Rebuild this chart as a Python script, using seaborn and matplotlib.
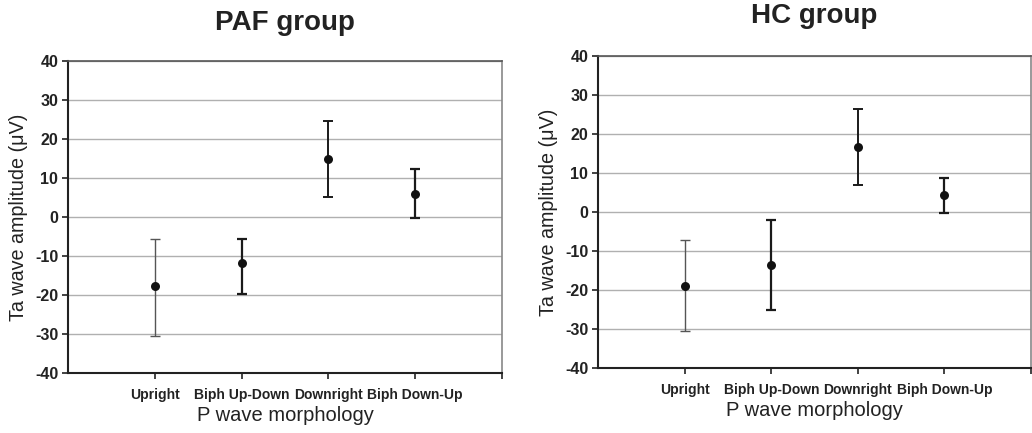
import matplotlib
matplotlib.use("Agg")
import matplotlib.pyplot as plt
import seaborn as sns
import numpy as np
import pandas as pd

sns.set_theme(style="white")
plt.rcParams['font.family'] = ['Liberation Sans', 'DejaVu Sans']

categories = ["Upright", "Biph Up-Down", "Downright", "Biph Down-Up"]

paf_mean = [-17.6, -11.9, 14.8, 6.0]
paf_upper = [-5.6, -5.6, 24.6, 12.2]
paf_lower = [-30.4, -19.8, 5.1, -0.3]

hc_mean = [-18.9, -13.6, 16.7, 4.2]
hc_upper = [-7.3, -2.0, 26.4, 8.7]
hc_lower = [-30.4, -25.1, 6.9, -0.2]

titles = ["PAF group", "HC group"]
y_ticks = [-40, -30, -20, -10, 0, 10, 20, 30, 40]
err_widths = [1.0, 1.6, 1.4, 1.6]

fig = plt.figure(figsize=(10.32, 4.33), dpi=100)
ax1 = fig.add_axes([0.0659, 0.1386, 0.4205, 0.7204])
ax2 = fig.add_axes([0.5795, 0.150, 0.4196, 0.7214])

groups = [
    (ax1, paf_mean, paf_upper, paf_lower, titles[0], 22),
    (ax2, hc_mean, hc_upper, hc_lower, titles[1], 23.5),
]

for ax, mean, upper, lower, title, tpad in groups:
    pos = np.arange(1, len(categories) + 1)
    df = pd.DataFrame({"pos": pos, "mean": mean, "upper": upper,
                       "lower": lower, "cat": categories})
    for i, row in df.iterrows():
        col = "#555555" if i == 0 else "#1a1a1a"
        ax.errorbar(row["pos"], row["mean"],
                    yerr=[[row["mean"] - row["lower"]], [row["upper"] - row["mean"]]],
                    fmt="none", ecolor=col, elinewidth=err_widths[i],
                    capsize=3.6, capthick=err_widths[i], zorder=3)
    sns.scatterplot(data=df, x="pos", y="mean", ax=ax, color="#111111",
                    s=42, edgecolor="#111111", linewidth=0, zorder=4)
    ax.set_xlim(0, len(categories) + 1)
    ax.set_ylim(-40, 40)
    ax.set_yticks(y_ticks)
    ax.set_yticklabels([str(v) for v in y_ticks], fontsize=11.5,
                       fontweight="bold", color="#222222")
    ax.set_xticks(list(pos) + [len(categories) + 1])
    ax.set_xticklabels(categories + [""], fontsize=10, fontweight="bold",
                       color="#222222")
    ax.yaxis.grid(True, color="#b0b0b0", linewidth=1.0)
    ax.set_axisbelow(True)
    ax.tick_params(axis="both", direction="out", length=4, width=1.2,
                   color="#222222", left=True, bottom=True, pad=3)
    ax.tick_params(axis="x", pad=7)
    ax.spines["left"].set_color("#222222")
    ax.spines["left"].set_linewidth(1.5)
    ax.spines["bottom"].set_color("#222222")
    ax.spines["bottom"].set_linewidth(1.5)
    ax.spines["top"].set_color("#555555")
    ax.spines["top"].set_linewidth(1.2)
    ax.spines["right"].set_color("#888888")
    ax.spines["right"].set_linewidth(1.2)
    ax.set_xlabel("P wave morphology", fontsize=14.5, color="#222222", labelpad=3)
    ax.set_ylabel("Ta wave amplitude (\u03bcV)", fontsize=14.2, color="#222222",
                  labelpad=5)
    ax.set_title(title, fontsize=20, fontweight="bold", color="#222222", pad=tpad)

fig.savefig("out.png", dpi=100, facecolor="white")
